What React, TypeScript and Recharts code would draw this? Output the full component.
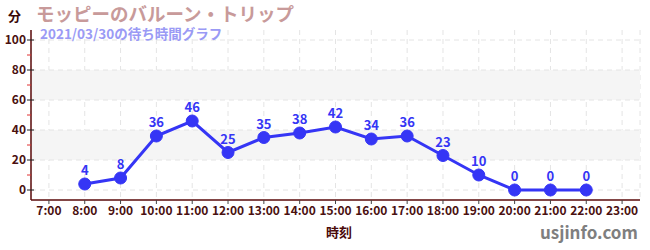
import React from "react";
import {
  LineChart,
  Line,
  XAxis,
  YAxis,
  CartesianGrid,
  ReferenceArea,
  ReferenceLine,
  LabelList,
} from "recharts";

const hours = [8, 9, 10, 11, 12, 13, 14, 15, 16, 17, 18, 19, 20, 21, 22];
const waits = [4, 8, 36, 46, 25, 35, 38, 42, 34, 36, 23, 10, 0, 0, 0];
const xTicks = [7, 8, 9, 10, 11, 12, 13, 14, 15, 16, 17, 18, 19, 20, 21, 22, 23];
const yTicks = [0, 10, 20, 30, 40, 50, 60, 70, 80, 90, 100];
const yMajor = [0, 20, 40, 60, 80, 100];
const bands = [
  [20, 40],
  [60, 80],
];
const title = "モッピーのバルーン・トリップ";
const subtitle = "2021/03/30の待ち時間グラフ";
const yUnit = "分";
const xName = "時刻";
const site = "usjinfo.com";

const data = hours.map((h, i) => ({ h, v: waits[i] }));

const FONT = '"Noto Sans CJK JP", "Noto Sans", sans-serif';
const AXIS = "#5a0a0a";
const LABEL = "#4a1010";
const BLUE = "#3535f5";

const YTick = (props: any) => {
  const { y, payload } = props;
  const v = payload.value;
  const major = v % 20 === 0;
  const ax = 31;
  if (!major) {
    return <line x1={ax - 4} x2={ax} y1={y} y2={y} stroke="#e03030" strokeWidth={1} />;
  }
  return (
    <g>
      <line x1={ax - 4} x2={ax + 3} y1={y} y2={y} stroke="#222" strokeWidth={1} />
      <text
        x={ax - 5}
        y={y}
        dy={4}
        textAnchor="end"
        fontFamily={FONT}
        fontWeight="bold"
        fontSize={12}
        fill={LABEL}
      >
        {v}
      </text>
    </g>
  );
};

export default function App() {
  return (
    <div
      style={{
        position: "absolute",
        left: 0,
        top: 0,
        width: 650,
        height: 250,
        background: "#fff",
        fontFamily: FONT,
      }}
    >
      <LineChart
        width={650}
        height={250}
        data={data}
        margin={{ top: 30, right: 10, left: 0, bottom: 0 }}
      >
        {bands.map(([a, b], i) => (
          <ReferenceArea key={i} y1={a} y2={b} fill="#f5f5f5" fillOpacity={1} stroke="none" ifOverflow="visible" />
        ))}
        <CartesianGrid horizontal={false} stroke="#e4e4e4" strokeDasharray="5 4" />
        {yMajor.map((v) => (
          <ReferenceLine key={v} y={v} stroke="#e4e4e4" strokeDasharray="5 4" />
        ))}
        <XAxis
          dataKey="h"
          type="number"
          domain={[6.5, 23.5]}
          ticks={xTicks}
          interval={0}
          tickFormatter={(v: number) => `${v}:00`}
          height={50}
          tickSize={4}
          stroke={AXIS}
          axisLine={{ stroke: AXIS, strokeWidth: 1.5 }}
          tickLine={{ stroke: "#444" }}
          tick={{ fill: LABEL, fontSize: 12, fontWeight: "bold", fontFamily: FONT }}
          allowDataOverflow
        />
        <YAxis
          type="number"
          domain={[-20 / 3, 320 / 3]}
          ticks={yTicks}
          interval={0}
          width={31}
          axisLine={{ stroke: AXIS, strokeWidth: 1.5 }}
          tickLine={false}
          tick={<YTick />}
          allowDataOverflow
        />
        <Line
          type="linear"
          dataKey="v"
          stroke={BLUE}
          strokeWidth={3}
          dot={{ r: 6, fill: BLUE, stroke: BLUE, strokeWidth: 1 }}
          activeDot={false}
          isAnimationActive={false}
        >
          <LabelList
            dataKey="v"
            position="top"
            offset={9}
            fill={BLUE}
            fontSize={13}
            fontWeight="bold"
            fontFamily={FONT}
          />
        </Line>
      </LineChart>
      <div
        style={{
          position: "absolute",
          left: 8,
          top: 7,
          fontSize: 13,
          fontWeight: "bold",
          color: "#3a0808",
          lineHeight: "18px",
        }}
      >
        {yUnit}
      </div>
      <div
        style={{
          position: "absolute",
          left: 36,
          top: 3,
          fontSize: 18.5,
          fontWeight: "bold",
          color: "#c89a9a",
          lineHeight: "21px",
          whiteSpace: "nowrap",
        }}
      >
        {title}
      </div>
      <div
        style={{
          position: "absolute",
          left: 40,
          top: 26,
          fontSize: 13.5,
          fontWeight: "bold",
          color: "#9a9af5",
          lineHeight: "15px",
          whiteSpace: "nowrap",
        }}
      >
        {subtitle}
      </div>
      <div
        style={{
          position: "absolute",
          left: 326,
          top: 222,
          fontSize: 13,
          fontWeight: "bold",
          color: "#4a0a0a",
          lineHeight: "20px",
        }}
      >
        {xName}
      </div>
      <div
        style={{
          position: "absolute",
          left: 540,
          top: 219,
          fontSize: 17,
          fontWeight: "bold",
          color: "#7f7f7f",
          lineHeight: "26px",
          whiteSpace: "nowrap",
        }}
      >
        {site}
      </div>
    </div>
  );
}
